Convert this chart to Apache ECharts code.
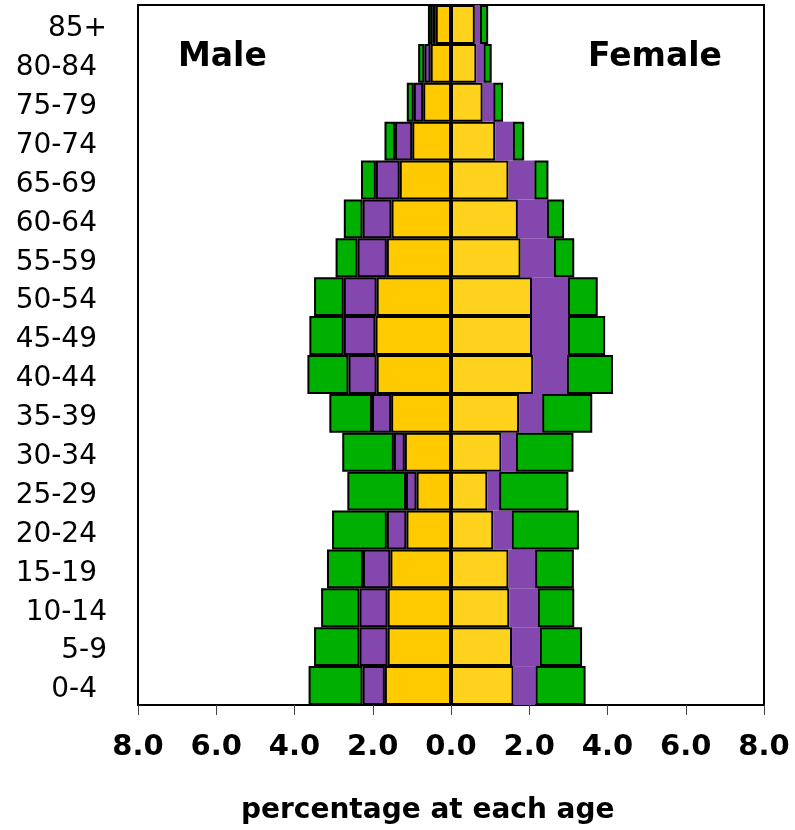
<!DOCTYPE html>
<html>
<head>
<meta charset="utf-8">
<script src="https://cdn.jsdelivr.net/npm/echarts@6/dist/echarts.min.js"></script>
<style>
  html, body { margin: 0; padding: 0; background: #ffffff; }
  #chart { width: 795px; height: 830px; }
</style>
</head>
<body>
<div id="chart"></div>
<script>
// Age groups, youngest first (drawn bottom to top)
const ageGroups = ['0-4', '5-9', '10-14', '15-19', '20-24', '25-29', '30-34', '35-39',
  '40-44', '45-49', '50-54', '55-59', '60-64', '65-69', '70-74', '75-79', '80-84', '85+'];

// Segment widths in percent, inner (yellow) to outer (green)
const maleYellow   = [1.69, 1.62, 1.62, 1.55, 1.14, 0.88, 1.18, 1.53, 1.90, 1.93, 1.90, 1.64, 1.52, 1.31, 0.99, 0.71, 0.52, 0.39];
const malePurple   = [0.57, 0.72, 0.72, 0.70, 0.50, 0.27, 0.28, 0.49, 0.72, 0.81, 0.84, 0.75, 0.74, 0.61, 0.44, 0.24, 0.16, 0.09];
const maleGreen    = [1.38, 1.16, 0.98, 0.92, 1.40, 1.50, 1.32, 1.09, 1.05, 0.88, 0.76, 0.56, 0.48, 0.38, 0.27, 0.18, 0.16, 0.11];

const femaleYellow = [1.60, 1.56, 1.49, 1.47, 1.08, 0.93, 1.29, 1.74, 2.10, 2.07, 2.07, 1.78, 1.71, 1.47, 1.13, 0.81, 0.65, 0.61];
const femalePurple = [0.56, 0.71, 0.73, 0.68, 0.47, 0.30, 0.37, 0.59, 0.86, 0.92, 0.92, 0.85, 0.74, 0.66, 0.45, 0.27, 0.18, 0.13];
const femaleGreen  = [1.28, 1.08, 0.93, 0.99, 1.72, 1.77, 1.47, 1.28, 1.18, 0.95, 0.76, 0.52, 0.44, 0.36, 0.29, 0.25, 0.21, 0.21];

// Age labels that sit a little further right than the rest
const shiftedLabels = ['85+', '10-14', '5-9'];

const xTicks = { min: -8, max: 8, step: 2 };

const COLORS = {
  maleYellow: '#FFCA00',
  femaleYellow: '#FFD21E',
  purple: '#8447AE',
  green: '#00B000'
};

const neg = arr => arr.map(v => -v);

function barSeries(name, stack, data, color, bordered) {
  return {
    name: name,
    type: 'bar',
    stack: stack,
    data: data,
    barCategoryGap: '0%',
    barGap: '-100%',
    itemStyle: {
      color: color,
      borderColor: '#000000',
      borderWidth: bordered ? 2 : 0
    },
    emphasis: { disabled: true },
    animation: false
  };
}

const chart = echarts.init(document.getElementById('chart'), null, { renderer: 'canvas' });

chart.setOption({
  backgroundColor: '#ffffff',
  animation: false,
  grid: {
    left: 138, right: 31, top: 5, bottom: 125,
    show: true, borderColor: '#000000', borderWidth: 2
  },
  xAxis: {
    type: 'value',
    min: xTicks.min,
    max: xTicks.max,
    interval: xTicks.step,
    splitLine: { show: false },
    axisLine: { show: true, lineStyle: { color: '#000000', width: 2 } },
    axisTick: { show: true, length: 10, lineStyle: { color: '#444444', width: 1 } },
    axisLabel: {
      margin: 28,
      color: '#000000',
      fontFamily: 'DejaVu Sans',
      fontWeight: 'bold',
      fontSize: 29,
      formatter: v => Math.abs(v).toFixed(1)
    }
  },
  yAxis: {
    type: 'category',
    data: ageGroups,
    axisLine: { show: true, lineStyle: { color: '#000000', width: 2 } },
    axisTick: { show: false },
    splitLine: { show: false },
    axisLabel: {
      margin: 31,
      color: '#000000',
      fontFamily: 'DejaVu Sans',
      fontSize: 28,
      formatter: v => shiftedLabels.includes(v) ? '{s|' + v + '}' : '{n|' + v + '}',
      rich: {
        n: { fontFamily: 'DejaVu Sans', fontSize: 28, color: '#000000', padding: [9, 10, 0, 0] },
        s: { fontFamily: 'DejaVu Sans', fontSize: 28, color: '#000000', padding: [9, 0, 0, 0] }
      }
    }
  },
  series: [
    barSeries('Male 1', 'male', neg(maleYellow), COLORS.maleYellow, true),
    barSeries('Male 2', 'male', neg(malePurple), COLORS.purple, true),
    barSeries('Male 3', 'male', neg(maleGreen), COLORS.green, true),
    barSeries('Female 1', 'female', femaleYellow, COLORS.femaleYellow, true),
    barSeries('Female 2', 'female', femalePurple, COLORS.purple, false),
    barSeries('Female 3', 'female', femaleGreen, COLORS.green, true)
  ],
  graphic: [
    {
      type: 'text', left: 178, top: 41,
      style: { text: 'Male', fill: '#000000', font: 'bold 33px "DejaVu Sans"' }
    },
    {
      type: 'text', left: 588, top: 41,
      style: { text: 'Female', fill: '#000000', font: 'bold 33px "DejaVu Sans"' }
    },
    {
      type: 'text', left: 241, top: 797,
      style: { text: 'percentage at each age', fill: '#000000', font: 'bold 28px "DejaVu Sans"' }
    }
  ]
});
</script>
</body>
</html>
